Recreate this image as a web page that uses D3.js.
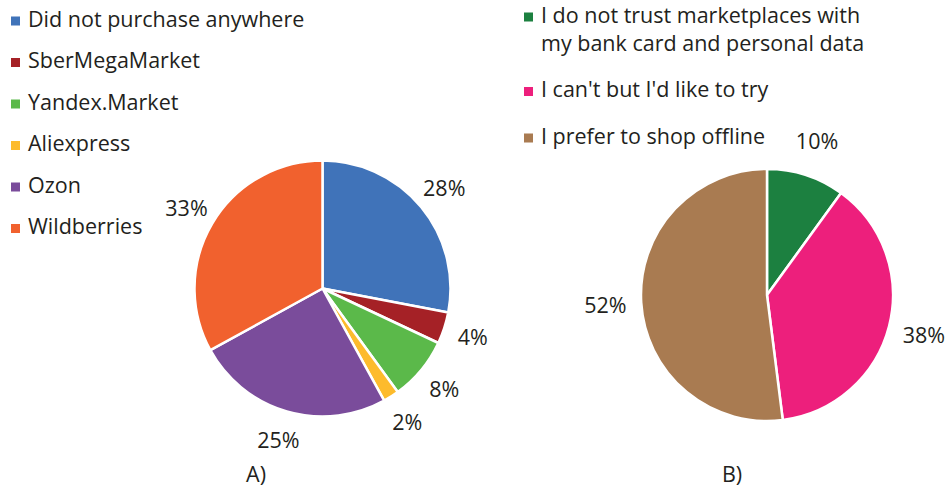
<!DOCTYPE html>
<html lang="en">
<head>
    <meta charset="UTF-8">
    <title>Marketplaces pie charts</title>
    <script src="https://d3js.org/d3.v7.min.js"></script>
    <style>
        body {
            margin: 0;
            background: #ffffff;
        }
        svg {
            display: block;
        }
        text {
            font-family: "Open Sans", "Noto Sans", sans-serif;
            fill: #231f20;
        }
    </style>
</head>
<body>
    <svg width="950" height="487"></svg>

    <script>
        // Chart A: where people purchased
        var catsA = ["Did not purchase anywhere", "SberMegaMarket", "Yandex.Market", "Aliexpress", "Ozon", "Wildberries"];
        var valsA = [28, 4, 8, 2, 25, 33];
        var colorsA = ["#4073b9", "#a52126", "#5bb94a", "#fdbb2c", "#7a4c9b", "#f1612e"];

        // Chart B: reasons for not purchasing
        var catsB = ["I do not trust marketplaces with\nmy bank card and personal data", "I can't but I'd like to try", "I prefer to shop offline"];
        var valsB = [10, 38, 52];
        var colorsB = ["#1c8040", "#ed1f7c", "#a97b51"];

        var captions = ["A)", "B)"];

        var svg = d3.select("svg");
        var fontSize = 21.5;

        function drawPie(cx, cy, r, labelR, cats, vals, colors) {
            var color = d3.scaleOrdinal().domain(cats).range(colors);
            var pie = d3.pie().sort(null).value(function(d, i) { return vals[i]; });
            var arc = d3.arc().innerRadius(0).outerRadius(r);
            var labelArc = d3.arc().innerRadius(labelR).outerRadius(labelR);

            var g = svg.append("g")
                .attr("transform", "translate(" + cx + "," + cy + ")");

            var arcs = g.selectAll("g.arc")
                .data(pie(cats))
                .enter()
                .append("g")
                .attr("class", "arc");

            arcs.append("path")
                .attr("d", arc)
                .attr("fill", function(d) { return color(d.data); })
                .attr("stroke", "#ffffff")
                .attr("stroke-width", 2.5)
                .attr("stroke-linejoin", "round");

            arcs.append("text")
                .attr("transform", function(d) { return "translate(" + labelArc.centroid(d) + ")"; })
                .attr("text-anchor", "middle")
                .attr("dy", "0.36em")
                .style("font-size", fontSize + "px")
                .text(function(d) { return d.value + "%"; });
        }

        function drawLegend(x, y0, lineH, rowGap, cats, colors) {
            var y = y0;
            cats.forEach(function(c, i) {
                var lines = c.split("\n");
                var g = svg.append("g");
                g.append("rect")
                    .attr("x", x)
                    .attr("y", y + 2 - 4.5)
                    .attr("width", 9)
                    .attr("height", 9)
                    .attr("fill", colors[i]);
                var t = g.append("text")
                    .attr("x", x + 17)
                    .attr("y", y)
                    .style("font-size", fontSize + "px");
                lines.forEach(function(l, j) {
                    t.append("tspan")
                        .attr("x", x + 17)
                        .attr("dy", j == 0 ? "0.36em" : lineH + "px")
                        .text(l);
                });
                y += (lines.length - 1) * lineH + rowGap;
            });
        }

        drawPie(322.5, 288.5, 128, 158, catsA, valsA, colorsA);
        drawPie(767, 295, 126, 162, catsB, valsB, colorsB);

        drawLegend(11, 19, 28, 41.5, catsA, colorsA);
        drawLegend(524, 15, 28, 46.5, catsB, colorsB);

        // captions under the pies
        svg.selectAll("text.caption")
            .data(captions)
            .enter()
            .append("text")
            .attr("class", "caption")
            .attr("x", function(d, i) { return i == 0 ? 256 : 732; })
            .attr("y", 474)
            .attr("dy", "0.36em")
            .attr("text-anchor", "middle")
            .style("font-size", fontSize + "px")
            .text(function(d) { return d; });
    </script>
</body>
</html>
